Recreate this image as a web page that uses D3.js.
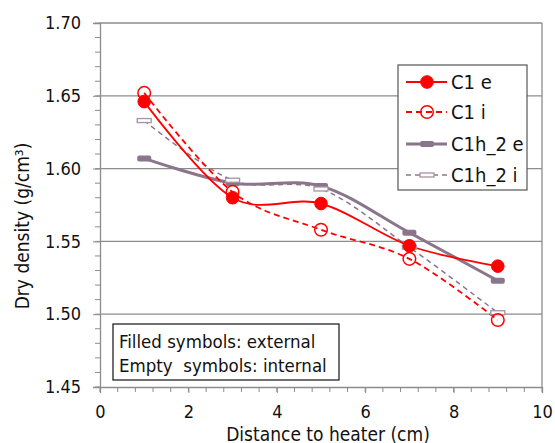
<!DOCTYPE html>
<html>
<head>
<meta charset="utf-8">
<script src="https://cdn.jsdelivr.net/npm/d3@7"></script>
<style>
  body { margin: 0; background: #fff; }
  text { font-family: "DejaVu Sans Condensed", "DejaVu Sans", sans-serif; fill: #111; }
</style>
</head>
<body>
<script>
// data
var distance = [1, 3, 5, 7, 9];
var c1e = [1.646, 1.580, 1.576, 1.547, 1.533];
var c1i = [1.652, 1.584, 1.558, 1.538, 1.496];
var c1h2e = [1.607, 1.590, 1.588, 1.556, 1.523];
var c1h2i = [1.633, 1.592, 1.586, 1.546, 1.501];
var xTicks = [0, 2, 4, 6, 8, 10];
var yTicks = [1.45, 1.50, 1.55, 1.60, 1.65, 1.70];
var seriesNames = ["C1 e", "C1 i", "C1h_2 e", "C1h_2 i"];

var W = 555, H = 443;
var plot = {left: 100, right: 542, top: 23, bottom: 387};
var red = "#ff0000", purple = "#8a768a", lightPurple = "#a493a4", gridColor = "#8c8c8c";

var svg = d3.select("body").append("svg")
    .attr("width", W)
    .attr("height", H);

var x = d3.scaleLinear().domain([0, 10]).range([plot.left, plot.right]);
var y = d3.scaleLinear().domain([1.45, 1.70]).range([plot.bottom, plot.top]);

// gridlines
svg.append("g").selectAll("line")
    .data(yTicks.slice(1))
    .enter().append("line")
    .attr("x1", plot.left).attr("x2", plot.right)
    .attr("y1", function (d) { return y(d); })
    .attr("y2", function (d) { return y(d); })
    .style("stroke", gridColor).style("stroke-width", 1.3);

// right border
svg.append("line")
    .attr("x1", plot.right).attr("x2", plot.right)
    .attr("y1", plot.top).attr("y2", plot.bottom)
    .style("stroke", gridColor).style("stroke-width", 1.3);

// minor ticks
var xMinor = d3.range(0, 10.001, 0.4);
var yMinor = d3.range(1.45, 1.7001, 0.01);
svg.append("g").selectAll("line")
    .data(xMinor)
    .enter().append("line")
    .attr("x1", function (d) { return x(d); }).attr("x2", function (d) { return x(d); })
    .attr("y1", plot.bottom).attr("y2", plot.bottom + 5)
    .style("stroke", gridColor).style("stroke-width", 1);
svg.append("g").selectAll("line")
    .data(yMinor)
    .enter().append("line")
    .attr("x1", plot.left - 5).attr("x2", plot.left)
    .attr("y1", function (d) { return y(d); }).attr("y2", function (d) { return y(d); })
    .style("stroke", gridColor).style("stroke-width", 1);

// axes
var xAxis = svg.append("g")
    .attr("transform", "translate(0," + plot.bottom + ")")
    .call(d3.axisBottom(x).tickValues(xTicks).tickFormat(d3.format("d")).tickSize(6).tickPadding(12));
var yAxis = svg.append("g")
    .attr("transform", "translate(" + plot.left + ",0)")
    .call(d3.axisLeft(y).tickValues(yTicks).tickFormat(d3.format(".2f")).tickSize(7).tickPadding(12));
[xAxis, yAxis].forEach(function (a) {
    a.select(".domain").style("stroke", gridColor).style("stroke-width", 1.3);
    a.selectAll(".tick line").style("stroke", gridColor);
    a.selectAll(".tick text").style("font-size", "18px").attr("fill", "#111")
        .style("font-family", "'DejaVu Sans Condensed', 'DejaVu Sans', sans-serif");
});

// axis titles
svg.append("text")
    .attr("text-anchor", "middle")
    .attr("transform", "translate(29,226)rotate(-90)")
    .style("font-size", "19px")
    .text("Dry density (g/cm³)");
svg.append("text")
    .attr("text-anchor", "middle")
    .attr("x", 328).attr("y", 440.5)
    .style("font-size", "19px")
    .text("Distance to heater (cm)");

function series(vals) {
    return distance.map(function (d, i) { return {x: d, y: vals[i]}; });
}
var line = d3.line()
    .x(function (d) { return x(d.x); })
    .y(function (d) { return y(d.y); })
    .curve(d3.curveCardinal.tension(0));

// lines
svg.append("path").datum(series(c1h2e)).attr("d", line)
    .style("fill", "none").style("stroke", purple).style("stroke-width", 3);
svg.append("path").datum(series(c1h2i)).attr("d", line)
    .style("fill", "none").style("stroke", purple).style("stroke-width", 1.5).style("stroke-dasharray", "5,4");
svg.append("path").datum(series(c1e)).attr("d", line)
    .style("fill", "none").style("stroke", red).style("stroke-width", 1.8);
svg.append("path").datum(series(c1i)).attr("d", line)
    .style("fill", "none").style("stroke", red).style("stroke-width", 1.8).style("stroke-dasharray", "6,4");

// markers
function drawMarker(g, kind, cx, cy) {
    if (kind === 0) {
        g.append("circle").attr("cx", cx).attr("cy", cy).attr("r", 6.3)
            .style("fill", red).style("stroke", red);
    } else if (kind === 1) {
        g.append("circle").attr("cx", cx).attr("cy", cy).attr("r", 6.3)
            .style("fill", "none").style("stroke", red).style("stroke-width", 1.5);
    } else if (kind === 2) {
        g.append("rect").attr("x", cx - 7).attr("y", cy - 3).attr("width", 14).attr("height", 6)
            .attr("rx", 2).style("fill", purple);
    } else {
        g.append("rect").attr("x", cx - 7).attr("y", cy - 2).attr("width", 14).attr("height", 4)
            .style("fill", "#fff").style("stroke", lightPurple).style("stroke-width", 1.3);
    }
}
var mk = svg.append("g");
[c1h2e, c1h2i, c1e, c1i].forEach(function (vals, k) {
    var kind = [2, 3, 0, 1][k];
    vals.forEach(function (v, i) { drawMarker(mk, kind, x(distance[i]), y(v)); });
});

// legend
var leg = svg.append("g");
leg.append("rect").attr("x", 398).attr("y", 65).attr("width", 129).attr("height", 125)
    .style("fill", "#fff").style("stroke", "#555").style("stroke-width", 1.2);
var legY = [82, 112, 144, 175];
var legStyles = [
    {stroke: red, width: 1.8, dash: null},
    {stroke: red, width: 1.8, dash: "6,4"},
    {stroke: purple, width: 3, dash: null},
    {stroke: purple, width: 1.5, dash: "5,4"}
];
seriesNames.forEach(function (name, i) {
    var st = legStyles[i];
    leg.append("line").attr("x1", 406).attr("x2", 447).attr("y1", legY[i]).attr("y2", legY[i])
        .style("stroke", st.stroke).style("stroke-width", st.width)
        .style("stroke-dasharray", st.dash);
    drawMarker(leg, i, 427, legY[i]);
    leg.append("text").attr("x", 451).attr("y", legY[i] + 7)
        .style("font-size", "20px").text(name);
});

// note box
var note = svg.append("g");
note.append("rect").attr("x", 113).attr("y", 324).attr("width", 226).attr("height", 56)
    .style("fill", "#fff").style("stroke", "#111").style("stroke-width", 1.2);
note.append("text").attr("x", 119).attr("y", 348).style("font-size", "18.5px").text("Filled symbols: external");
note.append("text").attr("x", 119).attr("y", 372).style("font-size", "18.5px").text("Empty\u00a0 symbols: internal");
</script>
</body>
</html>
